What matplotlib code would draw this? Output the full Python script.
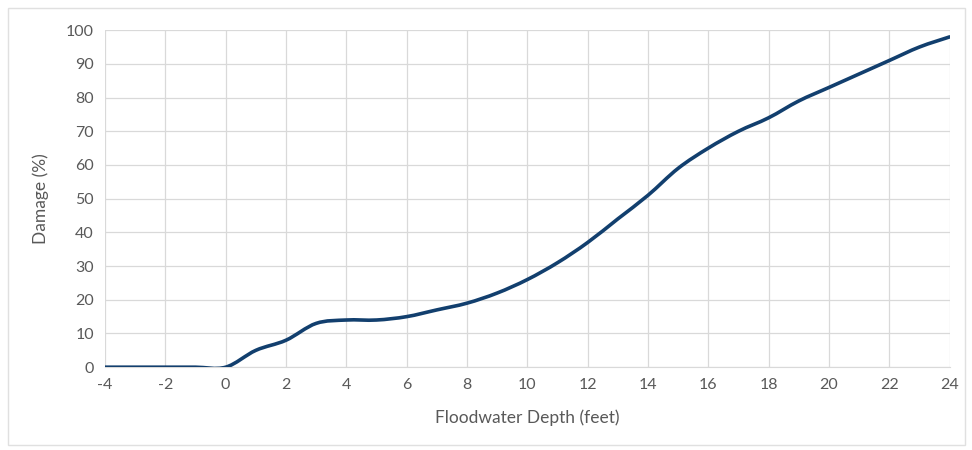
import numpy as np
import matplotlib.pyplot as plt
from matplotlib.path import Path
from matplotlib.patches import PathPatch, Rectangle

# depth-damage curve
depth_ft = [-4, -3, -2, -1, 0, 1, 2, 3, 4, 5, 6, 7, 8, 9, 10, 11, 12, 13, 14,
            15, 16, 17, 18, 19, 20, 21, 22, 23, 24]
damage_pct = [0, 0, 0, 0, 0, 5, 8, 13, 14, 14, 15, 17, 19, 22, 26, 31, 37, 44, 51,
              59, 65, 70, 74, 79, 83, 87, 91, 95, 98]

x_ticks = list(range(-4, 25, 2))
y_ticks = list(range(0, 101, 10))

LINE_COLOR = '#123f6e'
TEXT_COLOR = '#595959'
GRID_COLOR = '#d9d9d9'


def smooth_path(xs, ys, tension=1/6):
	# cubic bezier through the points, like a spreadsheet "smoothed line"
	xs = np.asarray(xs, dtype=float)
	ys = np.asarray(ys, dtype=float)
	verts = [(xs[0], ys[0])]
	codes = [Path.MOVETO]
	n = len(xs)
	for i in range(n - 1):
		p0 = np.array([xs[max(i - 1, 0)], ys[max(i - 1, 0)]])
		p1 = np.array([xs[i], ys[i]])
		p2 = np.array([xs[i + 1], ys[i + 1]])
		p3 = np.array([xs[min(i + 2, n - 1)], ys[min(i + 2, n - 1)]])
		c1 = p1 + (p2 - p0) * tension
		c2 = p2 - (p3 - p1) * tension
		verts += [tuple(c1), tuple(c2), tuple(p2)]
		codes += [Path.CURVE4] * 3
	return Path(verts, codes)


plt.rcParams['font.family'] = ['Lato', 'DejaVu Sans']
plt.rcParams['axes.unicode_minus'] = False

fig = plt.figure(figsize=(9.72, 4.5), dpi=100)
ax = fig.add_axes([0.108, 0.184, 0.869, 0.749])

ax.add_patch(PathPatch(smooth_path(depth_ft, damage_pct), facecolor='none',
                       edgecolor=LINE_COLOR, lw=2.6, capstyle='round', joinstyle='round', zorder=3))

ax.set_xlim(-4, 24)
ax.set_ylim(0, 100)
ax.set_xticks(x_ticks)
ax.set_yticks(y_ticks)
ax.grid(True, color=GRID_COLOR, lw=0.9)
ax.set_axisbelow(True)
for side in ['top', 'right', 'left']:
	ax.spines[side].set_visible(False)
ax.spines['bottom'].set_color(GRID_COLOR)
ax.tick_params(length=0, colors=TEXT_COLOR, labelsize=11.5, pad=8)

ax.set_xlabel('Floodwater Depth (feet)', color=TEXT_COLOR, fontsize=12.5, labelpad=12)
ax.set_ylabel('Damage (%)', color=TEXT_COLOR, fontsize=12.5, labelpad=12)

# light frame around the whole chart
fig.patches.append(Rectangle((8 / 972, 5 / 450), 957 / 972, 437 / 450, transform=fig.transFigure,
                             fill=False, edgecolor='#e0e0e0', lw=1))

plt.savefig('out.png', dpi=100)
